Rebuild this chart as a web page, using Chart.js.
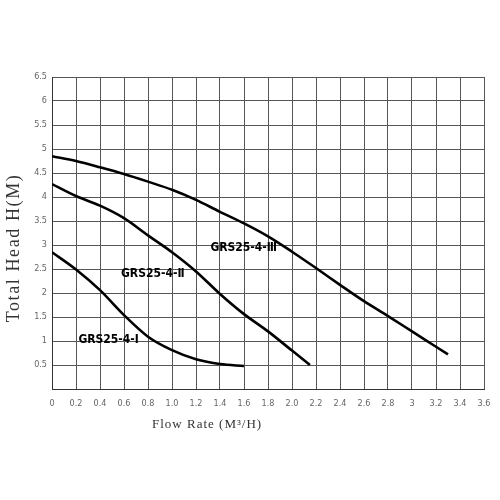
<!DOCTYPE html>
<html>
<head>
<meta charset="utf-8">
<script src="https://cdn.jsdelivr.net/npm/chart.js@4/dist/chart.umd.min.js"></script>
<style>
  html, body { margin: 0; padding: 0; background: #fff; }
  #wrap { width: 500px; height: 500px; }
</style>
</head>
<body>
<div id="wrap"><canvas id="pumpChart" width="500" height="500"></canvas></div>
<script>
// Flow rate (m3/h) and head (m)
const flowI = [0, 0.2, 0.4, 0.6, 0.8, 1.0, 1.2, 1.4, 1.6];
const headI = [2.85, 2.49, 2.06, 1.54, 1.09, 0.81, 0.62, 0.52, 0.48];

const flowII = [0, 0.2, 0.4, 0.6, 0.8, 1.0, 1.2, 1.4, 1.6, 1.8, 2.0, 2.15];
const headII = [4.27, 4.02, 3.82, 3.56, 3.2, 2.85, 2.45, 1.98, 1.56, 1.2, 0.8, 0.5];

const flowIII = [0, 0.2, 0.4, 0.6, 0.8, 1.0, 1.2, 1.4, 1.6, 1.8, 2.0, 2.2, 2.4, 2.6, 2.8, 3.0, 3.2, 3.3];
const headIII = [4.85, 4.75, 4.62, 4.48, 4.32, 4.15, 3.94, 3.69, 3.45, 3.18, 2.86, 2.52, 2.17, 1.83, 1.52, 1.2, 0.88, 0.72];

const curveNames = ['GRS25-4-Ⅰ', 'GRS25-4-Ⅱ', 'GRS25-4-Ⅲ'];
const nameX = [0.22, 0.575, 1.32];
const nameY = [1.02, 2.4, 2.94];

const xTickLabels = ['0', '0.2', '0.4', '0.6', '0.8', '1.0', '1.2', '1.4', '1.6', '1.8',
  '2.0', '2.2', '2.4', '2.6', '2.8', '3', '3.2', '3.4', '3.6'];
const yTickLabels = ['', '0.5', '1', '1.5', '2', '2.5', '3', '3.5', '4', '4.5', '5', '5.5', '6', '6.5'];

function toPoints(xs, ys) {
  return xs.map((x, i) => ({ x: x, y: ys[i] }));
}

const curveStyle = {
  borderColor: '#000',
  borderWidth: 2.6,
  pointRadius: 0,
  fill: false,
  showLine: true,
  cubicInterpolationMode: 'monotone'
};

// axis titles and curve names
const textPlugin = {
  id: 'textPlugin',
  afterDraw(chart) {
    const ctx = chart.ctx;
    const xs = chart.scales.x;
    const ys = chart.scales.y;
    ctx.save();
    ctx.fillStyle = '#000';
    ctx.font = 'bold 12px "DejaVu Sans Condensed", "DejaVu Sans", sans-serif';
    ctx.textAlign = 'left';
    ctx.textBaseline = 'middle';
    curveNames.forEach((name, i) => {
      ctx.fillText(name, xs.getPixelForValue(nameX[i]), ys.getPixelForValue(nameY[i]));
    });

    ctx.fillStyle = '#333';
    ctx.font = '13px "Liberation Serif", serif';
    ctx.textBaseline = 'alphabetic';
    ctx.letterSpacing = '1px';
    ctx.fillText('Flow Rate (M³/H)', 152, 428);

    ctx.translate(19, 248);
    ctx.rotate(-Math.PI / 2);
    ctx.textAlign = 'center';
    ctx.letterSpacing = '1.6px';
    ctx.font = '18px "Liberation Serif", serif';
    ctx.fillText('Total Head H(M)', 0, 0);
    ctx.restore();
  }
};

new Chart(document.getElementById('pumpChart'), {
  type: 'scatter',
  data: {
    datasets: [
      Object.assign({ label: curveNames[0], data: toPoints(flowI, headI) }, curveStyle),
      Object.assign({ label: curveNames[1], data: toPoints(flowII, headII) }, curveStyle),
      Object.assign({ label: curveNames[2], data: toPoints(flowIII, headIII) }, curveStyle)
    ]
  },
  options: {
    responsive: false,
    animation: false,
    layout: { padding: { left: 0, right: 16, top: 77, bottom: 0 } },
    plugins: {
      legend: { display: false },
      tooltip: { enabled: false }
    },
    scales: {
      x: {
        type: 'linear',
        min: 0,
        max: 3.6,
        afterFit(axis) { axis.height = 111; },
        grid: { color: '#555', lineWidth: 1, drawTicks: false },
        border: { color: '#333', width: 1 },
        ticks: {
          stepSize: 0.2,
          padding: 9,
          maxRotation: 0,
          autoSkip: false,
          color: '#666',
          font: { family: '"DejaVu Sans Condensed", "DejaVu Sans", sans-serif', size: 9 },
          callback: (v, i) => xTickLabels[i]
        }
      },
      y: {
        type: 'linear',
        min: 0,
        max: 6.5,
        afterFit(axis) { axis.width = 52; },
        grid: { color: '#555', lineWidth: 1, drawTicks: false },
        border: { color: '#333', width: 1 },
        ticks: {
          stepSize: 0.5,
          padding: 5,
          color: '#666',
          font: { family: '"DejaVu Sans Condensed", "DejaVu Sans", sans-serif', size: 9 },
          callback: (v, i) => yTickLabels[i]
        }
      }
    }
  },
  plugins: [textPlugin]
});
</script>
</body>
</html>
